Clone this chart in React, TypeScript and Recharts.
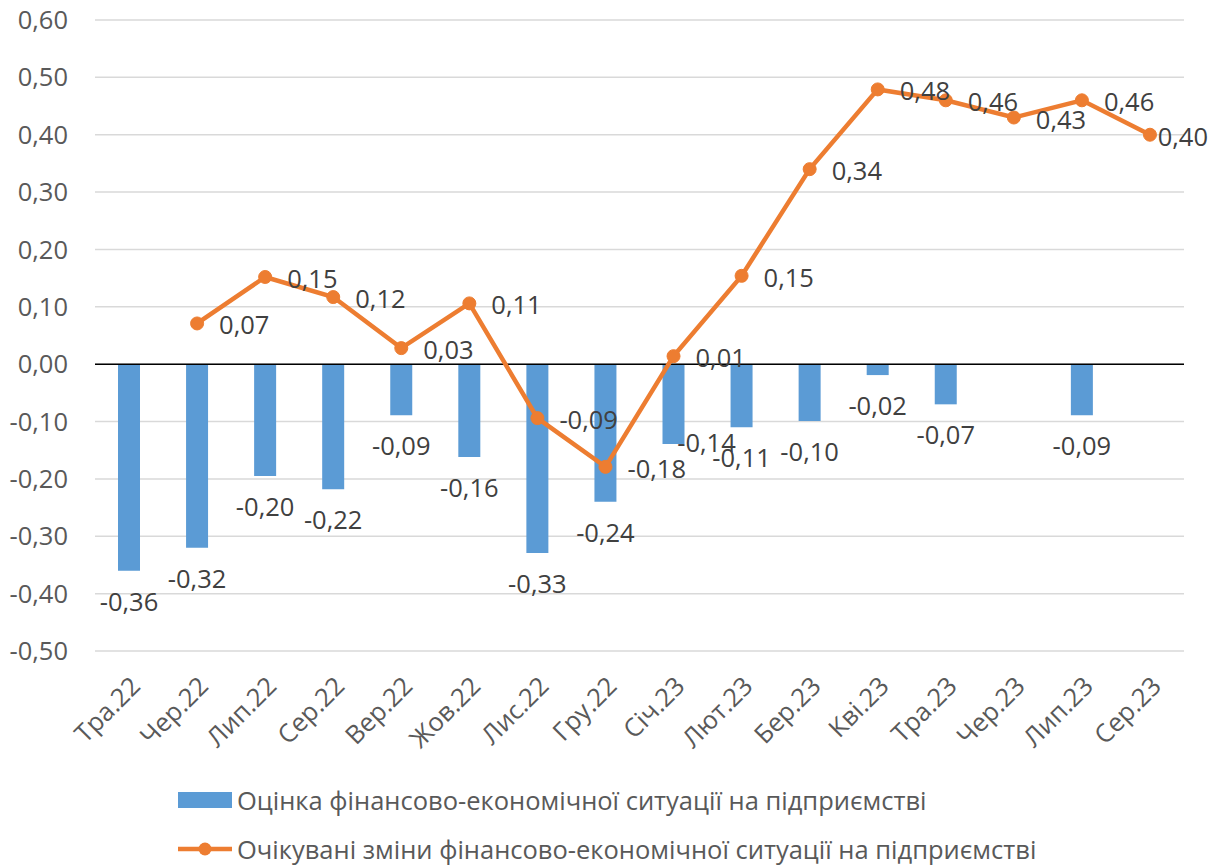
import { ComposedChart, Bar, Line, XAxis, YAxis, CartesianGrid, ReferenceLine, LabelList, Legend } from "recharts";

const months = [
  "Тра.22", "Чер.22", "Лип.22", "Сер.22", "Вер.22", "Жов.22", "Лис.22", "Гру.22",
  "Січ.23", "Лют.23", "Бер.23", "Кві.23", "Тра.23", "Чер.23", "Лип.23", "Сер.23",
];

// Оцінка фінансово-економічної ситуації на підприємстві
const assessment = [
  -0.36, -0.32, -0.195, -0.218, -0.089, -0.162, -0.329, -0.24,
  -0.139, -0.11, -0.099, -0.019, -0.07, 0, -0.089, null,
];

// Очікувані зміни фінансово-економічної ситуації на підприємстві
const expected = [
  null, 0.071, 0.152, 0.117, 0.028, 0.106, -0.094, -0.179,
  0.014, 0.154, 0.34, 0.479, 0.46, 0.43, 0.46, 0.4,
];

const yTicks = [-0.5, -0.4, -0.3, -0.2, -0.1, 0, 0.1, 0.2, 0.3, 0.4, 0.5, 0.6];

const data = months.map((m, i) => ({ month: m, assessment: assessment[i], expected: expected[i] }));

const BLUE = "#5b9bd5";
const ORANGE = "#ed7d31";
const FONT = "'Open Sans', 'Noto Sans', sans-serif";
const FS = 25.5;
const fmt = (v: number) => v.toFixed(2).replace(".", ",");

// label for Січ.23 is pushed aside in the original to avoid the line label
const barLabelNudge: Record<number, [number, number]> = { 8: [33, -32] };

const BarLabel = (props: any) => {
  const { x, y, width, height, value, index } = props;
  if (value === null || value === undefined) return null;
  const top = Math.min(y, y + height);
  const bottom = Math.max(y, y + height);
  const [dx, dy] = barLabelNudge[index] || [0, 0];
  const ty = (value >= 0 ? top - 29 : bottom + 30) + dy;
  return (
    <text x={x + width / 2 + dx} y={ty} textAnchor="middle" dominantBaseline="central"
      fontSize={FS} fontFamily={FONT} fill="#404040">
      {fmt(value)}
    </text>
  );
};

const LineLabel = (props: any) => {
  const { x, y, value } = props;
  if (value === null || value === undefined) return null;
  const nearEdge = x + 22 + 56 > 1209;
  return (
    <text x={nearEdge ? 1208 : x + 22} y={y + 1} textAnchor={nearEdge ? "end" : "start"}
      dominantBaseline="central" fontSize={FS} fontFamily={FONT} fill="#404040">
      {fmt(value)}
    </text>
  );
};

const renderLegend = () => (
  <svg width={1209} height={88} style={{ display: "block", overflow: "visible" }}>
    <rect x={178} y={14} width={54} height={16} fill={BLUE} />
    <text x={237} y={22} dominantBaseline="central" fontSize={FS} fontFamily={FONT} fill="#595959">
      Оцінка фінансово-економічної ситуації на підприємстві
    </text>
    <line x1={178} x2={232} y1={71} y2={71} stroke={ORANGE} strokeWidth={4.5} />
    <circle cx={205} cy={71} r={6.5} fill={ORANGE} />
    <text x={237} y={71} dominantBaseline="central" fontSize={FS} fontFamily={FONT} fill="#595959">
      Очікувані зміни фінансово-економічної ситуації на підприємстві
    </text>
  </svg>
);

export default function App() {
  return (
    <div style={{ position: "absolute", left: 0, top: 0, width: 1209, height: 868, background: "#fff" }}>
      <ComposedChart width={1209} height={868} data={data}
        margin={{ top: 20, right: 25, left: 0, bottom: 0 }}>
        <CartesianGrid vertical={false} stroke="#d9d9d9" strokeWidth={1.5} />
        <XAxis dataKey="month" height={217} axisLine={false} tickLine={false}
          interval={0} angle={-45} textAnchor="end" tickMargin={18}
          tick={{ fontSize: FS, fontFamily: FONT, fill: "#595959" }} />
        <YAxis width={95} domain={[-0.5, 0.6]} ticks={yTicks} axisLine={false} tickLine={false}
          tickSize={0} tickMargin={27} tickFormatter={fmt}
          tick={{ fontSize: FS, fontFamily: FONT, fill: "#595959" }} />
        <ReferenceLine y={0} stroke="#000" strokeWidth={1.5} />
        <Bar dataKey="assessment" fill={BLUE} barSize={22} isAnimationActive={false}>
          <LabelList dataKey="assessment" content={BarLabel} />
        </Bar>
        <Line dataKey="expected" stroke={ORANGE} strokeWidth={4.5} connectNulls={false}
          dot={{ r: 6.5, fill: ORANGE, stroke: ORANGE, strokeWidth: 1 }} isAnimationActive={false}>
          <LabelList dataKey="expected" content={LineLabel} />
        </Line>
        <Legend layout="horizontal" verticalAlign="middle" align="center" content={renderLegend}
          wrapperStyle={{ top: 778, left: 0, width: 1209 }} />
      </ComposedChart>
    </div>
  );
}
